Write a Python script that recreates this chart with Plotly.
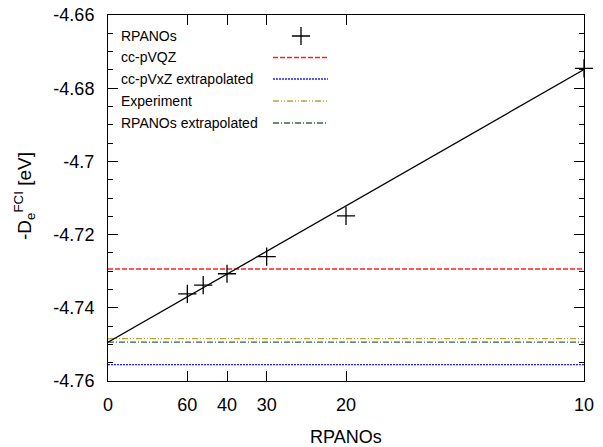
import plotly.graph_objects as go

# ---- data ----
rpano_n = [60, 50, 40, 30, 20, 10]
rpano_energy = [-4.7362, -4.7338, -4.7307, -4.7260, -4.7149, -4.6746]

fit_intercept = -4.7494
fit_slope = 0.745

ref_names = ["cc-pVQZ", "cc-pVxZ extrapolated", "Experiment", "RPANOs extrapolated"]
ref_values = [-4.7294, -4.7555, -4.7484, -4.7494]
ref_colors = ["#ff2020", "#2020ff", "#bfa030", "#2f6b3f"]
ref_dashes = ["5px,2px", "2px,1px", "6px,2px,1px,2px,1px,2px", "6px,2px,1px,2px"]

x_tick_n = [60, 40, 30, 20, 10]
y_tick_vals = [-4.76, -4.74, -4.72, -4.70, -4.68, -4.66]
y_tick_text = ["-4.76", "-4.74", "-4.72", "-4.7", "-4.68", "-4.66"]

x_range = [0, 0.1]
y_range = [-4.76, -4.66]

FONT = "Liberation Sans, Arial, sans-serif"

x_tick_vals = [0] + [1.0 / n for n in x_tick_n]
x_tick_text = ["0"] + [str(n) for n in x_tick_n]

fig = go.Figure()

# reference horizontal lines
for name, v, c, d in zip(ref_names, ref_values, ref_colors, ref_dashes):
    fig.add_trace(go.Scatter(x=x_range, y=[v, v], mode="lines",
                             line=dict(color=c, width=1.3, dash=d),
                             showlegend=False, name=name))

# fit line
fig.add_trace(go.Scatter(x=x_range, y=[fit_intercept + fit_slope * xx for xx in x_range],
                         mode="lines", line=dict(color="black", width=1.3),
                         showlegend=False))

# RPANO points
fig.add_trace(go.Scatter(x=[1.0 / n for n in rpano_n], y=rpano_energy, mode="markers",
                         marker=dict(symbol="cross-thin", size=13,
                                     line=dict(color="black", width=1.3)),
                         cliponaxis=False, showlegend=False, name="RPANOs"))

# ---- custom gnuplot-style legend (text left, sample right) ----
L, R, T, B = 108, 19, 15, 66
W, H = 603, 447
pw, ph = W - L - R, H - T - B

def px(xp):
    return (xp - L) / pw

def py(yp):
    return (H - B - yp) / ph

legend_labels = ["RPANOs"] + ref_names
row_y = [36, 57.5, 79, 101, 123]
for lab, yy in zip(legend_labels, row_y):
    fig.add_annotation(x=px(119), y=py(yy), xref="paper", yref="paper",
                       text=lab, showarrow=False, xanchor="left", yanchor="middle",
                       font=dict(family=FONT, size=14, color="black"))

for c, d, yy in zip(ref_colors, ref_dashes, row_y[1:]):
    fig.add_shape(type="line", xref="paper", yref="paper",
                  x0=px(273), x1=px(328), y0=py(yy), y1=py(yy),
                  line=dict(color=c, width=1.3, dash=d))

# legend marker sample
mx = x_range[0] + (x_range[1] - x_range[0]) * px(301)
my = y_range[0] + (y_range[1] - y_range[0]) * py(row_y[0])
fig.add_trace(go.Scatter(x=[mx], y=[my], mode="markers",
                         marker=dict(symbol="cross-thin", size=13,
                                     line=dict(color="black", width=1.3)),
                         cliponaxis=False, showlegend=False))

# axis titles
fig.add_annotation(x=px(346), y=py(437), xref="paper", yref="paper",
                   text="RPANOs", showarrow=False, xanchor="center", yanchor="middle",
                   font=dict(family=FONT, size=18, color="black"))
fig.add_annotation(x=px(24), y=py(196), xref="paper", yref="paper",
                   text="-D<sub>e</sub><sup>FCI</sup> [eV]", showarrow=False,
                   textangle=-90, xanchor="center", yanchor="middle",
                   font=dict(family=FONT, size=19, color="black"))

fig.update_layout(
    width=W, height=H,
    margin=dict(l=L, r=R, t=T, b=B, autoexpand=False),
    paper_bgcolor="white", plot_bgcolor="white",
    font=dict(family=FONT, size=18, color="black"),
    showlegend=False,
)
fig.update_xaxes(range=x_range, tickvals=x_tick_vals, ticktext=x_tick_text,
                 ticks="inside", ticklen=10, tickwidth=1, tickcolor="black",
                 showline=True, linecolor="black", linewidth=1, mirror="allticks",
                 showgrid=False, zeroline=False, ticklabelstandoff=7,
                 tickfont=dict(family=FONT, size=18))
fig.update_yaxes(range=y_range, tickvals=y_tick_vals, ticktext=y_tick_text,
                 ticks="inside", ticklen=10, tickwidth=1, tickcolor="black",
                 showline=True, linecolor="black", linewidth=1, mirror="allticks",
                 showgrid=False, zeroline=False, ticklabelstandoff=9,
                 minor=dict(dtick=0.005, tick0=-4.76, ticks="inside", ticklen=5,
                            tickcolor="black", showgrid=False),
                 tickfont=dict(family=FONT, size=18))

fig.write_html("out.html", config={"displayModeBar": False},
               post_script="document.body.style.margin='0';document.body.style.padding='0';")
